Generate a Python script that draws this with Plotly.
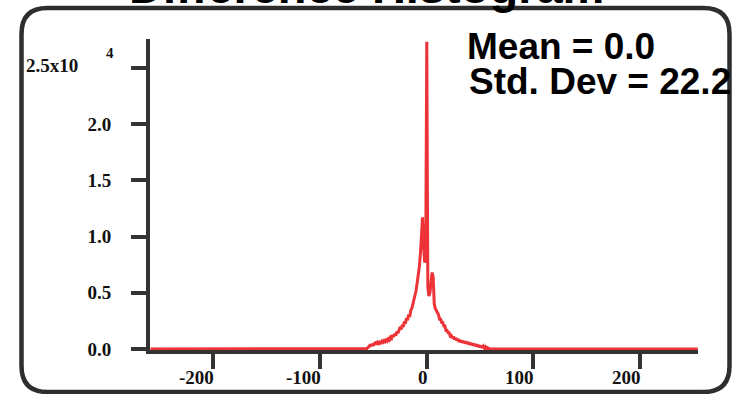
import plotly.graph_objects as go

# ---------------- data ----------------
bin_x = list(range(-60, 61))
bin_counts = [
    0, 0, 0, 0, 50, 150, 200, 400, 250, 450,              # -60 .. -51
    300, 500, 550, 400, 600, 500, 700, 550, 700, 600,     # -50 .. -41
    750, 650, 800, 700, 900, 800, 1050, 950, 1250, 1100,  # -40 .. -31
    1350, 1200, 1550, 1400, 1750, 1950, 1750, 2150, 1950, 2450,  # -30 .. -21
    2250, 2750, 2550, 3050, 2850, 3450, 3600, 4100, 4400, 4800,  # -20 .. -11
    5200, 5800, 6600, 7300, 8400, 10000, 11700, 9200, 7700, 7900,  # -10 .. -1
    27300,                                                       # 0
    5500, 4700, 5000, 6000, 6800, 6400, 4000, 3600, 3400, 3100,  # 1 .. 10
    3050, 2650, 2650, 2350, 2350, 2050, 2050, 1650, 1650, 1450,  # 11 .. 20
    1450, 1150, 1200, 950, 1100, 850, 1000, 750, 900, 650,       # 21 .. 30
    800, 600, 750, 550, 700, 500, 650, 450, 600, 400,            # 31 .. 40
    550, 350, 500, 300, 450, 250, 400, 200, 350, 150,            # 41 .. 50
    300, 100, 250, 80, 200, 50, 120, 40, 30, 0,                  # 51 .. 60
]
tail_left_x = -259
tail_right_x = 254
hist_x = [tail_left_x] + bin_x + [tail_right_x]
hist_y = [0] + bin_counts + [0]

x_tick_vals = [-200, -100, 0, 100, 200]
x_tick_text = ["-200", "-100", "0", "100", "200"]
y_tick_vals = [0, 5000, 10000, 15000, 20000, 25000]
y_tick_text = ["0.0", "0.5", "1.0", "1.5", "2.0", ""]
y_top_label = "2.5x10"
y_top_exponent = "4"
title_text = "Difference Histogram"
stat_lines = ["Mean = 0.0", "Std. Dev = 22.2"]

# ---------------- layout geometry ----------------
W, H = 732, 394
L, R, T, B = 150, 34, 39, 44
PW, PH = W - L - R, H - T - B


def PX(px):
    return (px - L) / PW


def PY(py):
    return (H - B - py) / PH


SERIF = "Liberation Serif"
SANS = "Liberation Sans"
AX = "#333333"
RED = "#EE3338"

fig = go.Figure()
fig.add_trace(go.Scatter(x=hist_x, y=hist_y, mode="lines",
                         line=dict(color=RED, width=3), hoverinfo="skip",
                         showlegend=False))

fig.update_layout(
    width=W, height=H,
    margin=dict(l=L, r=R, t=T, b=B, pad=0),
    plot_bgcolor="white", paper_bgcolor="white",
    showlegend=False,
    xaxis=dict(range=[-259.4, 254.2], showline=True, linecolor=AX, linewidth=4,
               ticks="outside", ticklen=15, tickwidth=3.5, tickcolor=AX,
               tickvals=x_tick_vals, showticklabels=False,
               showgrid=False, zeroline=False),
    yaxis=dict(range=[-89, 27556], showline=True, linecolor=AX, linewidth=4,
               ticks="outside", ticklen=15, tickwidth=3.5, tickcolor=AX,
               tickvals=y_tick_vals, ticktext=y_tick_text,
               tickfont=dict(family=SERIF, size=19, color="#111", weight="bold"),
               ticklabelstandoff=16,
               showgrid=False, zeroline=False),
)

ann = []
for v, t in zip(x_tick_vals, x_tick_text):
    ann.append(dict(x=v, xref="x", y=0, yref="paper", text=t, showarrow=False,
                    xanchor="right", yanchor="top", xshift=3, yshift=-14.7,
                    font=dict(family=SERIF, size=19, color="#111", weight="bold")))
ann.append(dict(x=PX(80), y=PY(65.7), xref="paper", yref="paper", text=y_top_label,
                showarrow=False, xanchor="right", yanchor="middle",
                font=dict(family=SERIF, size=19, color="#111", weight="bold")))
ann.append(dict(x=PX(116), y=PY(53), xref="paper", yref="paper", text=y_top_exponent,
                showarrow=False, xanchor="right", yanchor="middle",
                font=dict(family=SERIF, size=15, color="#111", weight="bold")))
ann.append(dict(x=PX(366.7), y=PY(15), xref="paper", yref="paper", text=title_text,
                showarrow=False, xanchor="center", yanchor="bottom",
                font=dict(family=SANS, size=47, color="#000", weight="bold")))
ann.append(dict(x=PX(464.5), y=PY(45.5), xref="paper", yref="paper", text=stat_lines[0],
                showarrow=False, xanchor="left", yanchor="middle", height=32, valign="middle",
                font=dict(family=SANS, size=37, color="#000", weight="bold")))
ann.append(dict(x=PX(466.5), y=PY(80.5), xref="paper", yref="paper", text=stat_lines[1],
                showarrow=False, xanchor="left", yanchor="middle", height=32, valign="middle",
                font=dict(family=SANS, size=37, color="#000", weight="bold")))
fig.update_layout(annotations=ann)

# rounded frame
x0, x1, y0, y1, r = 21.5, 729.5, 8, 392, 26
path = (f"M {PX(x0 + r)},{PY(y0)} L {PX(x1 - r)},{PY(y0)} "
        f"Q {PX(x1)},{PY(y0)} {PX(x1)},{PY(y0 + r)} "
        f"L {PX(x1)},{PY(y1 - r)} Q {PX(x1)},{PY(y1)} {PX(x1 - r)},{PY(y1)} "
        f"L {PX(x0 + r)},{PY(y1)} Q {PX(x0)},{PY(y1)} {PX(x0)},{PY(y1 - r)} "
        f"L {PX(x0)},{PY(y0 + r)} Q {PX(x0)},{PY(y0)} {PX(x0 + r)},{PY(y0)} Z")
fig.add_shape(type="path", xref="paper", yref="paper", path=path,
              line=dict(color="#2e2e2e", width=4.5), layer="above")

fig.write_html("out.html")
